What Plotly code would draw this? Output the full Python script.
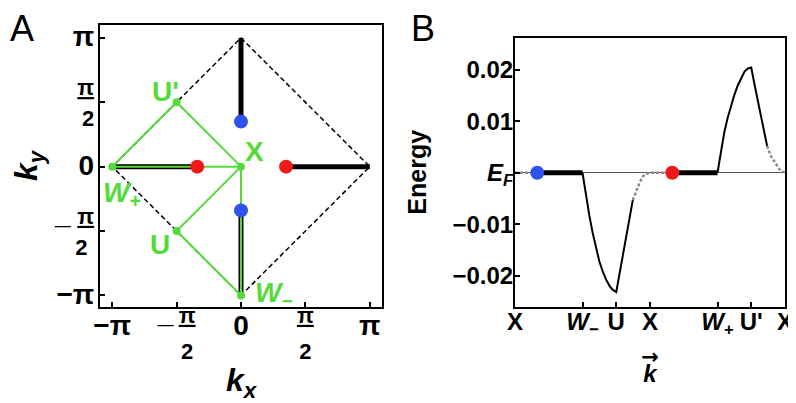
import numpy as np
import plotly.graph_objects as go

PI = np.pi

# ---------------- Panel A : kx-ky plane ----------------
bz_kx = [0, PI, 0, -PI, 0]
bz_ky = [PI, 0, -PI, 0, PI]

arc_kx = [0, 0, None, 0.35 * PI, PI, None, -PI, -0.34 * PI, None, 0, 0]
arc_ky = [PI, 0.35 * PI, None, 0, 0, None, 0, 0, None, -0.34 * PI, -PI]

path_kx = [0, 0, -PI / 2, 0, -PI, -PI / 2, 0]
path_ky = [0, -PI, -PI / 2, 0, 0, PI / 2, 0]

node_kx = [0, 0, -PI / 2, -PI, -PI / 2]
node_ky = [0, -PI, -PI / 2, 0, PI / 2]

blue_kx = [0, 0]
blue_ky = [0.35 * PI, -0.34 * PI]
red_kx = [-0.34 * PI, 0.35 * PI]
red_ky = [0, 0]

A_tickvals = [-PI, -PI / 2, 0, PI / 2, PI]

# ---------------- Panel B : energy along path ----------------
k_ticks = [0, 2, 3, 4, 6, 7, 8]
k_ticktext = ["X", "<i>W</i><sub>−</sub>", "U", "X", "<i>W</i><sub>+</sub>", "U'", "X"]
E_ticks = [-0.02, -0.01, 0, 0.01, 0.02]
E_ticktext = ["−0.02", "−0.01", "<i>E</i><sub><i>F</i></sub>", "0.01", "0.02"]

k_dash1 = [0, 0.66]
E_dash1 = [0, 0]
k_flat1 = [0.66, 2.0]
E_flat1 = [0, 0]
k_band1 = [2.0, 2.1, 2.2, 2.3, 2.4, 2.5, 2.6, 2.7, 2.8, 2.9, 3.0,
           3.1, 3.19, 3.29, 3.39, 3.49]
E_band1 = [0, -0.0042, -0.0082, -0.0116, -0.0147, -0.0172, -0.0191, -0.0207,
           -0.0219, -0.0227, -0.0231,
           -0.0195, -0.0163, -0.0124, -0.0086, -0.0053]
k_dash2 = [3.49, 3.56, 3.64, 3.71, 3.78, 3.85, 3.93, 4.0, 4.66]
E_dash2 = [-0.0053, -0.0040, -0.00275, -0.0017, -0.0008, -0.0003, -0.0001, 0, 0]
k_flat2 = [4.66, 6.0]
E_flat2 = [0, 0]
k_band2 = [6.0, 6.1, 6.2, 6.3, 6.4, 6.5, 6.6, 6.7, 6.8, 6.9, 7.0,
           7.1, 7.2, 7.3, 7.4, 7.47]
E_band2 = [0, 0.0042, 0.0078, 0.0106, 0.0130, 0.0151, 0.0169, 0.0184, 0.0196,
           0.0202, 0.0204,
           0.0170, 0.0136, 0.0104, 0.0074, 0.0052]
k_dash3 = [7.47, 7.57, 7.72, 7.87, 8.0]
E_dash3 = [0.0052, 0.0034, 0.0018, 0.0004, 0]
k_blue = [0.66]
E_blue = [0]
k_red = [4.66]
E_red = [0]

GREEN = "#55DA3A"
BLUE = "#2F52EC"
RED = "#EE1A1A"
FONT = "Liberation Sans, Arial, sans-serif"

# page body has an 8px margin: figure is drawn 8px right/down of the window
W, H = 788, 395
OFF = 8


def px_x(v):
    return (v - OFF) / W


def px_y(v):
    return 1 - (v - OFF) / H


fig = go.Figure()

# Panel A traces
fig.add_trace(go.Scatter(x=bz_kx, y=bz_ky, mode="lines",
                         line=dict(color="black", width=1.5, dash="5px,3px"),
                         xaxis="x", yaxis="y", hoverinfo="skip"))
fig.add_trace(go.Scatter(x=arc_kx, y=arc_ky, mode="lines",
                         line=dict(color="black", width=5),
                         xaxis="x", yaxis="y", hoverinfo="skip"))
fig.add_trace(go.Scatter(x=path_kx, y=path_ky, mode="lines",
                         line=dict(color=GREEN, width=2),
                         xaxis="x", yaxis="y", hoverinfo="skip"))
fig.add_trace(go.Scatter(x=node_kx, y=node_ky, mode="markers",
                         marker=dict(color=GREEN, size=8),
                         xaxis="x", yaxis="y", hoverinfo="skip"))
fig.add_trace(go.Scatter(x=blue_kx, y=blue_ky, mode="markers",
                         marker=dict(color=BLUE, size=14),
                         xaxis="x", yaxis="y", hoverinfo="skip"))
fig.add_trace(go.Scatter(x=red_kx, y=red_ky, mode="markers",
                         marker=dict(color=RED, size=14),
                         xaxis="x", yaxis="y", hoverinfo="skip"))

# Panel B traces
dash_style = dict(color="#8a8a8a", width=2.5, dash="3px,2px")
for kk, ee in [(k_dash1, E_dash1), (k_dash2, E_dash2), (k_dash3, E_dash3)]:
    fig.add_trace(go.Scatter(x=kk, y=ee, mode="lines", line=dash_style,
                             xaxis="x2", yaxis="y2", hoverinfo="skip"))
for kk, ee in [(k_flat1, E_flat1), (k_flat2, E_flat2)]:
    fig.add_trace(go.Scatter(x=kk, y=ee, mode="lines",
                             line=dict(color="black", width=5),
                             xaxis="x2", yaxis="y2", hoverinfo="skip"))
for kk, ee in [(k_band1, E_band1), (k_band2, E_band2)]:
    fig.add_trace(go.Scatter(x=kk, y=ee, mode="lines",
                             line=dict(color="black", width=2),
                             xaxis="x2", yaxis="y2", hoverinfo="skip"))
fig.add_trace(go.Scatter(x=k_blue, y=E_blue, mode="markers",
                         marker=dict(color=BLUE, size=14),
                         xaxis="x2", yaxis="y2", hoverinfo="skip"))
fig.add_trace(go.Scatter(x=k_red, y=E_red, mode="markers",
                         marker=dict(color=RED, size=14),
                         xaxis="x2", yaxis="y2", hoverinfo="skip"))

# tick label texts for panel A (stacked fractions)
FR = "font-size:22px"
MN = "font-size:28px"
HID = "font-size:28px;color:rgba(0,0,0,0)"
BIG = "font-size:28px"
frac_x = (f"<sup><span style='{FR}'><u>π</u></span></sup><br>"
          f"<sup><span style='{FR}'>2</span></sup>")
frac_neg_x = (f"<sup><span style='{MN}'>_</span> <span style='{FR}'><u>π</u></span></sup><br>"
              f"<sup><span style='{HID}'>_</span> <span style='{FR}'>2</span></sup>")
frac_y = f"<span style='{FR}'><u>π</u></span><br><span style='{FR}'>2</span>"
frac_neg_y = (f"<span style='{MN}'>_</span> <span style='{FR}'><u>π</u></span><br>"
              f"<span style='{FR}'>2</span> ")
A_ticktext_x = ["−π", frac_neg_x, "0", frac_x, "π"]
A_ticktext_y = [f"<span style='{BIG}'>−π</span>", frac_neg_y,
                f"<span style='{BIG}'>0</span>", frac_y,
                f"<span style='{BIG}'>π</span>"]

axis_common = dict(showline=True, linecolor="black", linewidth=2, mirror=True,
                   ticks="inside", ticklen=5, tickwidth=1.5, tickcolor="black",
                   showgrid=False, zeroline=False, automargin=False)

fig.update_layout(
    template="none",
    width=W, height=H,
    margin=dict(l=0, r=0, t=0, b=0, autoexpand=False),
    paper_bgcolor="white", plot_bgcolor="white",
    showlegend=False,
    font=dict(family=FONT, color="black"),
    xaxis=dict(domain=[px_x(100), px_x(382)], range=[-1.095 * PI, 1.095 * PI],
               anchor="y", tickvals=A_tickvals, ticktext=A_ticktext_x,
               tickfont=dict(family=FONT, size=28, color="black", weight="bold"),
               ticklabelstandoff=-8,
               title=dict(text="<i>k</i><sub><i>x</i></sub>", standoff=27,
                          font=dict(family=FONT, size=32, color="black", weight="bold")),
               **axis_common),
    yaxis=dict(domain=[px_y(307), px_y(25)], range=[-1.09 * PI, 1.10 * PI],
               anchor="x", tickvals=A_tickvals, ticktext=A_ticktext_y,
               tickfont=dict(family=FONT, size=24, color="black", weight="bold"),
               ticklabelstandoff=-1,
               title=dict(text="<i>k</i><sub><i>y</i></sub>", standoff=31,
                          font=dict(family=FONT, size=32, color="black", weight="bold")),
               **axis_common),
    xaxis2=dict(domain=[px_x(515), px_x(785)], range=[0, 8], anchor="y2",
                tickvals=k_ticks, ticktext=k_ticktext,
                tickfont=dict(family=FONT, size=24, color="black", weight="bold"),
                ticklabelstandoff=-8,
                title=dict(text=("<span style='font-family:DejaVu Sans;font-size:21px'>→</span><br>"
                                 "<span style='font-size:24px'><i>k</i></span>"),
                           standoff=16,
                           font=dict(family=FONT, size=14, color="black", weight="bold")),
                **axis_common),
    yaxis2=dict(domain=[px_y(307), px_y(37.5)], range=[-0.026, 0.0262], anchor="x2",
                tickvals=E_ticks, ticktext=E_ticktext,
                tickfont=dict(family=FONT, size=24, color="black", weight="bold"),
                ticklabelstandoff=-5,
                title=dict(text="Energy", standoff=19,
                           font=dict(family=FONT, size=25, color="black", weight="bold")),
                **{**axis_common, "zeroline": True, "zerolinecolor": "#555555",
                   "zerolinewidth": 1}),
)

# point labels in panel A
lab_font = dict(family=FONT, size=28, color=GREEN, weight="bold")
for txt, x, y in [("U'", -0.588 * PI, 0.587 * PI), ("X", 0.107 * PI, 0.114 * PI),
                  ("U", -0.627 * PI, -0.607 * PI),
                  ("<i>W</i><sub>+</sub>", -0.922 * PI, -0.22 * PI),
                  ("<i>W</i><sub>−</sub>", 0.259 * PI, -0.995 * PI)]:
    fig.add_annotation(x=x, y=y, xref="x", yref="y", text=txt, showarrow=False,
                       xanchor="center", yanchor="middle", font=lab_font)

# panel letters
fig.add_annotation(x=0, y=px_y(28.5), xref="paper", yref="paper", text="A",
                   showarrow=False, xanchor="left", yanchor="middle",
                   font=dict(family=FONT, size=36, color="black"))
fig.add_annotation(x=px_x(422.5), y=px_y(28.5), xref="paper", yref="paper", text="B",
                   showarrow=False, xanchor="center", yanchor="middle",
                   font=dict(family=FONT, size=36, color="black"))

fig.write_html("out.html")
